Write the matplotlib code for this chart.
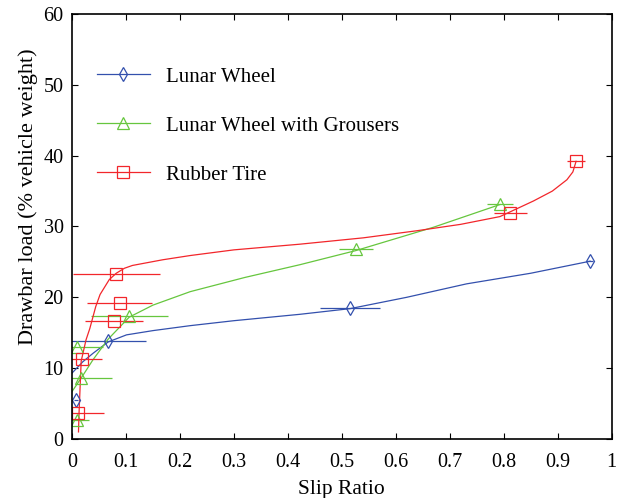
import matplotlib
matplotlib.use("Agg")
import matplotlib.pyplot as plt

plt.rcParams['font.family'] = ['Liberation Serif', 'DejaVu Serif']

# measured points (slip ratio, drawbar load %) with slip error
lunar_x = [0.0074, 0.067, 0.515, 0.960]
lunar_y = [5.5, 13.9, 18.5, 25.1]
lunar_xerr = [0.004, 0.071, 0.055, 0.005]

grouser_x = [0.0087, 0.017, 0.0087, 0.106, 0.526, 0.793]
grouser_y = [2.7, 8.6, 13.0, 17.4, 26.8, 33.2]
grouser_xerr = [0.022, 0.057, 0.049, 0.071, 0.032, 0.024]

tire_x = [0.012, 0.018, 0.078, 0.088, 0.082, 0.812, 0.934]
tire_y = [3.6, 11.3, 16.7, 19.2, 23.3, 31.9, 39.2]
tire_xerr = [0.047, 0.037, 0.054, 0.061, 0.081, 0.031, 0.016]

# fitted curves
lunar_fit_x = [0, 0.02, 0.039, 0.067, 0.101, 0.15, 0.219, 0.30, 0.422, 0.515, 0.62, 0.731, 0.85, 0.96]
lunar_fit_y = [9.3, 10.9, 12.1, 13.7, 14.7, 15.3, 16.0, 16.7, 17.6, 18.4, 20.0, 21.9, 23.4, 25.1]

grouser_fit_x = [0, 0.017, 0.039, 0.067, 0.106, 0.15, 0.219, 0.32, 0.422, 0.526, 0.67, 0.793]
grouser_fit_y = [6.7, 8.6, 11.2, 14.1, 17.2, 18.9, 20.8, 22.8, 24.6, 26.6, 29.9, 33.1]

tire_fit_x = [0.012, 0.013, 0.017, 0.026, 0.033, 0.044, 0.052, 0.069, 0.082, 0.097, 0.112, 0.14, 0.168,
              0.219, 0.30, 0.422, 0.54, 0.639, 0.72, 0.793, 0.855, 0.89, 0.917, 0.928, 0.934]
tire_fit_y = [1.0, 3.6, 11.0, 14.0, 15.6, 18.7, 20.4, 22.5, 23.4, 24.1, 24.5, 24.9, 25.3,
              25.9, 26.7, 27.5, 28.4, 29.4, 30.3, 31.4, 33.6, 35.0, 36.6, 37.7, 39.2]

blue = '#3350ad'
green = '#66c63e'
red = '#f2262b'

fig = plt.figure(figsize=(6.24, 4.98), dpi=100)
ax = fig.add_axes([0.1154, 0.1185, 0.8649, 0.8534])

series = [
    (lunar_x, lunar_y, lunar_xerr, lunar_fit_x, lunar_fit_y, blue, 'd', 7, 'Lunar Wheel'),
    (grouser_x, grouser_y, grouser_xerr, grouser_fit_x, grouser_fit_y, green, '^', 8, 'Lunar Wheel with Grousers'),
    (tire_x, tire_y, tire_xerr, tire_fit_x, tire_fit_y, red, 's', 8, 'Rubber Tire'),
]

handles = []
for x, y, xerr, fx, fy, c, m, ms, label in series:
    ax.plot(fx, fy, color=c, lw=0.9)
    ax.errorbar(x, y, xerr=xerr, fmt=m, color=c, mfc='none', mec=c, ms=ms,
                mew=0.9, elinewidth=0.9, capsize=0)
    h, = ax.plot([], [], color=c, marker=m, mfc='none', mec=c, ms=ms, mew=0.9, lw=0.9,
                 label=label)
    handles.append(h)

ax.set_xlim(0, 1)
ax.set_ylim(0, 60)
ax.set_xticks([0, 0.1, 0.2, 0.3, 0.4, 0.5, 0.6, 0.7, 0.8, 0.9, 1])
ax.set_xticklabels(['0', '0.1', '0.2', '0.3', '0.4', '0.5', '0.6', '0.7', '0.8', '0.9', '1'])
ax.set_yticks([0, 10, 20, 30, 40, 50, 60])
ax.tick_params(direction='in', top=True, right=True, length=4, width=0.8,
               labelsize=14.5)
ax.tick_params(axis='x', pad=10)
ax.tick_params(axis='y', pad=6)
for s in ax.spines.values():
    s.set_linewidth(1.2)

ax.set_xlabel('Slip Ratio', fontsize=15.5, labelpad=6)
ax.set_ylabel('Drawbar load (% vehicle weight)', fontsize=16, labelpad=4)
ax.yaxis.label.set_y(0.57)

ax.legend(handles=handles, loc='upper left', bbox_to_anchor=(0.046, 0.875),
          frameon=False, fontsize=15, borderpad=0, borderaxespad=0,
          handlelength=2.55, handletextpad=0.75, labelspacing=1.41)

fig.savefig('out.png', dpi=100)
